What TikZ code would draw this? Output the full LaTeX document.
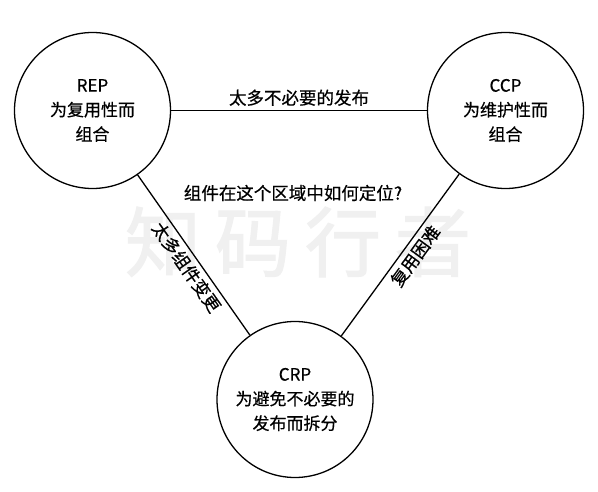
\documentclass[tikz,border=0pt]{standalone}
\usepackage{fontspec}
\setmainfont[FakeBold=0.5]{Noto Sans CJK SC}
\newfontfamily\wmfont[FakeBold=1.5]{Noto Sans CJK SC}
\begin{document}
\begin{tikzpicture}[x=1pt,y=-1pt,
  circnode/.style={circle, draw, line width=1.3pt, minimum size=156pt, inner sep=0pt,
    align=center, font=\fontsize{17}{24.5}\selectfont},
  edge/.style={line width=1.3pt},
  lbl/.style={font=\fontsize{17.5}{20}\selectfont, inner sep=2pt}]
\useasboundingbox (0,0) rectangle (598,492);
\fill[white] (0,0) rectangle (598,492);
\node[text=black!6, font=\wmfont\fontsize{76}{76}\selectfont] (wm) at (298,242)
  {知\hspace{14pt}码\hspace{14pt}行\hspace{14pt}者};
\node[circnode] (rep) at (92.5,110.5) {REP\\为复用性而\\组合};
\node[circnode] (ccp) at (505.5,110.5) {CCP\\为维护性而\\组合};
\node[circnode] (crp) at (295,399.5) {CRP\\为避免不必要的\\发布而拆分};
\draw[edge] (rep) -- node[lbl, above=2pt] {太多不必要的发布} (ccp);
\draw[edge] (rep) -- node[lbl, sloped, below=2pt, pos=0.53] {太多组件变更} (crp);
\draw[edge] (crp) -- node[lbl, sloped, below=2pt, pos=0.54] {复用困难} (ccp);
\node[lbl] (q) at (293,193) {组件在这个区域中如何定位?};
\end{tikzpicture}
\end{document}
